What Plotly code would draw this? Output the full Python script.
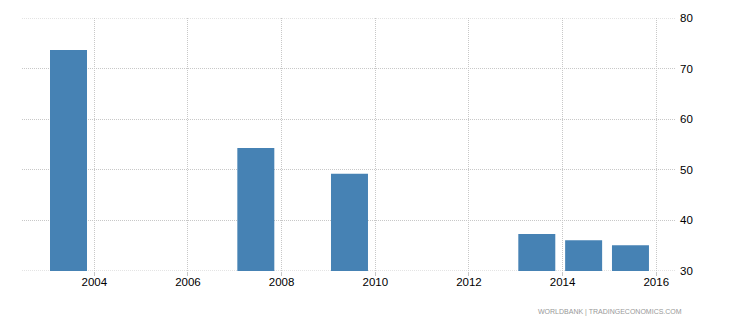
import plotly.graph_objects as go

years = [2003, 2007, 2009, 2013, 2014, 2015]
values = [73.7, 54.3, 49.2, 37.3, 36.1, 35.1]
x_ticks = [2004, 2006, 2008, 2010, 2012, 2014, 2016]
y_ticks = [30, 40, 50, 60, 70, 80]

FONT = "Liberation Sans, Arial, sans-serif"
GRID = "#c8c8c8"

fig = go.Figure(
    go.Bar(
        x=years,
        y=values,
        width=0.79,
        offset=0.054,
        marker=dict(color="#4682b4", line=dict(width=0)),
        hoverinfo="x+y",
    )
)

# Edge gridlines (Plotly skips gridlines lying exactly on the plot border)
for yv in (y_ticks[0], y_ticks[-1]):
    fig.add_shape(
        type="line", xref="paper", x0=0, x1=1, yref="y", y0=yv, y1=yv,
        line=dict(color=GRID, width=1, dash="1px,1px"), layer="below",
    )

fig.update_layout(
    width=730,
    height=325,
    margin=dict(l=22, r=55, t=18, b=54),
    paper_bgcolor="white",
    plot_bgcolor="white",
    showlegend=False,
    font=dict(family=FONT, size=11.5, color="#000000"),
    xaxis=dict(
        range=[2002.456, 2016.40],
        tickmode="array",
        tickvals=x_ticks,
        ticktext=[str(t) for t in x_ticks],
        showgrid=True,
        gridcolor=GRID,
        griddash="1px,1px",
        gridwidth=1,
        ticks="outside",
        ticklen=4,
        tickcolor=GRID,
        ticklabelstandoff=-4,
        showline=False,
        zeroline=False,
        tickfont=dict(family=FONT, size=11.5, color="#000000"),
    ),
    yaxis=dict(
        range=[30, 80],
        side="right",
        tickmode="array",
        tickvals=y_ticks,
        ticktext=[str(t) for t in y_ticks],
        showgrid=True,
        gridcolor=GRID,
        griddash="1px,1px",
        gridwidth=1,
        ticks="",
        ticklabelstandoff=4,
        showline=False,
        zeroline=False,
        tickfont=dict(family=FONT, size=11.5, color="#000000"),
    ),
    annotations=[
        dict(
            text="WORLDBANK | TRADINGECONOMICS.COM",
            xref="paper",
            yref="paper",
            x=(684 - 22) / (730 - 22 - 55),
            y=-(311.7 - 271) / (325 - 18 - 54),
            xanchor="right",
            yanchor="middle",
            showarrow=False,
            font=dict(family="Liberation Sans, Arial, sans-serif", size=7, color="#999999"),
        )
    ],
)

fig.write_html("out.html")
